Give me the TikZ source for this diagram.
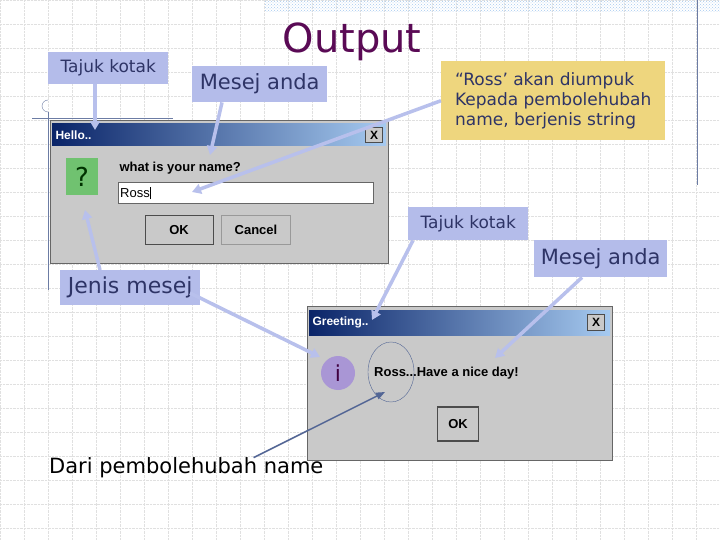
\documentclass[tikz,border=0pt]{standalone}
\usepackage{fontspec}
\setmainfont{DejaVu Sans}
\newfontfamily\dlgfont{Liberation Sans}
\usetikzlibrary{patterns,arrows.meta}
\definecolor{lbl}{HTML}{B4BCEA}
\definecolor{lbltxt}{HTML}{2E3466}
\definecolor{ylw}{HTML}{EED67E}
\definecolor{arr}{HTML}{B8C0EC}
\definecolor{ttl}{HTML}{5A0A55}
\definecolor{dlg}{HTML}{C9C9C9}
\definecolor{navy}{HTML}{0A2468}
\definecolor{skyb}{HTML}{A6CAF0}
\tikzset{
 lab/.style={fill=lbl,text=lbltxt,inner sep=0pt,anchor=north west,font=\fontsize{17}{19}\selectfont},
 callout/.style={draw=arr,line width=3.5pt,-{Triangle[length=9pt,width=10pt]}},
 btn/.style={draw=black!70,fill=dlg,line width=1pt,font=\dlgfont\bfseries\fontsize{13}{14}\selectfont},
}
\begin{document}
\begin{tikzpicture}[x=1pt,y=-1pt]
\useasboundingbox (0,0) rectangle (720,540);
\fill[white] (0,0) rectangle (720,540);
\foreach \i in {0,24,...,720} \draw[black!12,densely dotted] (\i,0) -- (\i,540);
\foreach \j in {0,24,...,540} \draw[black!12,densely dotted] (0,\j) -- (720,\j);
\fill[pattern=crosshatch dots,pattern color=skyb] (265,0) rectangle (720,12);
\draw[navy!60] (697,0) -- (697,185);
\draw[navy!60] (32,118) -- (173,118);
\draw[navy!60] (48,112) -- (48,290);
\draw[navy!60] (48,112) arc (90:270:6);
\node[font=\fontsize{40}{44}\selectfont,text=ttl] (title) at (352,42) {Output};
% dialog 1
\node[draw=black!60,fill=dlg,minimum width=338,minimum height=143,anchor=north west,inner sep=0] (d1) at (50,120) {};
\shade[left color=navy,right color=skyb] (52,124) rectangle (386,146);
\node[anchor=west,text=white,font=\dlgfont\bfseries\fontsize{12}{13}\selectfont] (h1) at (52,135) {Hello..};
\node[btn,minimum width=17,minimum height=15,inner sep=0,font=\dlgfont\bfseries\fontsize{12}{12}\selectfont] (x1) at (374,135) {X};
\node[fill=green!40!gray!80,minimum width=32,minimum height=37,inner sep=0,font=\fontsize{26}{26}\selectfont,text=green!20!black] (q) at (82,177) {?};
\node[anchor=west,font=\dlgfont\bfseries\fontsize{13}{14}\selectfont] (what) at (116,168) {what is your name?};
\node[draw=black!60,fill=white,minimum width=255,minimum height=21,inner sep=0,anchor=north west] (tb) at (118,182) {};
\node[anchor=west,font=\dlgfont\fontsize{13}{14}\selectfont,inner sep=1pt] (ross) at (119,193) {Ross\rule[-2pt]{1pt}{12pt}};
\node[btn,minimum width=68,minimum height=28,inner sep=0] (ok1) at (179,230) {OK};
\node[btn,draw=black!40,minimum width=69,minimum height=28,inner sep=0] (cancel) at (256,230) {Cancel};
% dialog 2
\node[draw=black!60,fill=dlg,minimum width=305,minimum height=154,anchor=north west,inner sep=0] (d2) at (307,306) {};
\shade[left color=navy,right color=skyb] (309,310) rectangle (610,335);
\node[anchor=west,text=white,font=\dlgfont\bfseries\fontsize{12}{13}\selectfont] (h2) at (309,322) {Greeting..};
\node[btn,minimum width=17,minimum height=16,inner sep=0,font=\dlgfont\bfseries\fontsize{12}{12}\selectfont] (x2) at (596,322) {X};
\node[circle,fill=lbl!80!violet,minimum size=34,inner sep=0,font=\fontsize{22}{22}\selectfont,text=violet!50!black] (info) at (338,373) {i};
\node[anchor=west,font=\dlgfont\bfseries\fontsize{13}{14}\selectfont,inner sep=0] (greet) at (374,373) {Ross...Have a nice day!};
\draw[navy!70] (391,372) ellipse [x radius=23,y radius=30];
\coordinate (ell) at (385,392);
\node[btn,line width=1.5pt,minimum width=41,minimum height=34,inner sep=0] (ok2) at (458,424) {OK};
% labels
\node[lab,minimum width=120,minimum height=32] (tk1) at (48,52) {Tajuk kotak};
\node[lab,minimum width=135,minimum height=36,font=\fontsize{21}{23}\selectfont] (ma1) at (192,66) {Mesej anda};
\node[lab,minimum width=140,minimum height=35,font=\fontsize{22}{24}\selectfont] (jm) at (60,270) {Jenis mesej};
\node[lab,minimum width=120,minimum height=33] (tk2) at (408,207) {Tajuk kotak};
\node[lab,minimum width=133,minimum height=37,font=\fontsize{21}{23}\selectfont] (ma2) at (534,240) {Mesej anda};
\node[fill=ylw,text=lbltxt,anchor=north west,minimum width=224,minimum height=79,inner sep=6pt,align=left,font=\fontsize{17}{20}\selectfont] (yb) at (441,61) {“Ross’ akan diumpuk\\Kepada pembolehubah\\name, berjenis string};
\node[anchor=west,inner sep=0,font=\fontsize{21}{23}\selectfont] (dari) at (49,468) {Dari pembolehubah name};
% arrows
\coordinate (a1) at (95,130);
\coordinate (a2) at (210,155);
\coordinate (a3) at (192,192);
\coordinate (a4) at (85,210);
\coordinate (a5) at (320,357);
\coordinate (a6) at (372,320);
\coordinate (a7) at (495,358);
\coordinate (s5) at (190,293);
\draw[callout] (tk1.south -| a1) -- (a1);
\draw[callout] (ma1.south west) ++(30,0) -- (a2);
\draw[callout] (yb.west) -- (a3);
\draw[callout] (jm.north west) ++(40,0) -- (a4);
\draw[callout] (s5) -- (a5);
\draw[callout] (tk2.south west) ++(5,0) -- (a6);
\draw[callout] (ma2.south west) ++(48,0) -- (a7);
\draw[navy!70,line width=1.5pt,-{Triangle[length=9pt,width=7pt]}] (dari.north east) ++(-70,0) -- (ell);
\end{tikzpicture}
\end{document}
